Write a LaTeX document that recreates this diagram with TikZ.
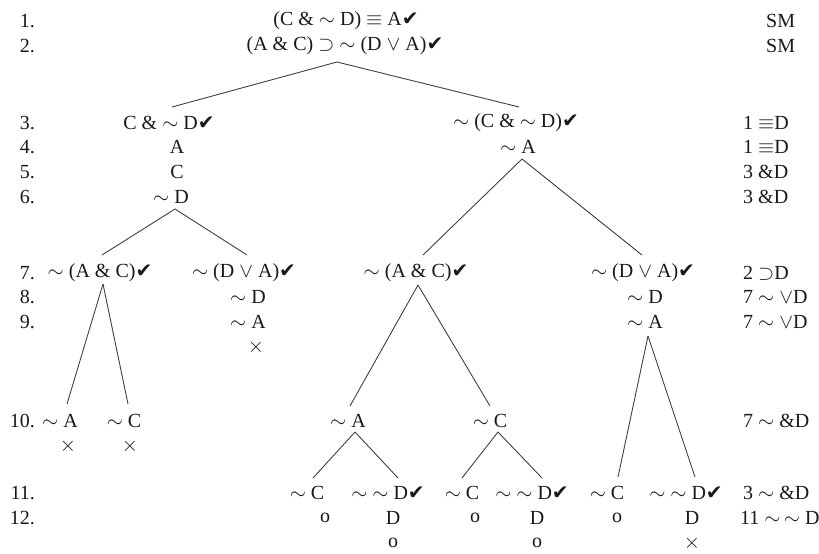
\documentclass[tikz,border=0pt]{standalone}
\usepackage{fontspec}
\setmainfont{Liberation Serif}
\newfontfamily\symfont{DejaVu Sans}
\usetikzlibrary{calc}
\newcommand{\tl}{$\sim$}
\newcommand{\ck}{{\symfont\symbol{"2714}}}
\begin{document}
\begin{tikzpicture}[x=1pt,y=-1pt,
  every node/.style={font=\fontsize{20}{24}\selectfont, inner sep=1pt, text=black!90},
  num/.style={anchor=east},
  just/.style={anchor=west},
  fm/.style={anchor=center},
  br/.style={draw=black!75, line width=0.9pt}]
\useasboundingbox (0,0) rectangle (819,554);
% line numbers
\foreach \n/\y in {1/21,2/46,3/123,4/147,5/172,6/197,7/273,8/297,9/322,10/421,11/493,12/518}
  \node[num] (num\n) at (36,\y) {\n.};
% justifications
\node[just] (j1) at (765,21) {SM};
\node[just] (j2) at (765,46) {SM};
\node[just] (j3) at (742,123) {1 $\equiv$D};
\node[just] (j4) at (742,147) {1 $\equiv$D};
\node[just] (j5) at (742,172) {3 \&D};
\node[just] (j6) at (742,197) {3 \&D};
\node[just] (j7) at (742,273) {2 $\supset$D};
\node[just] (j8) at (742,297) {7 \tl\ $\vee$D};
\node[just] (j9) at (742,322) {7 \tl\ $\vee$D};
\node[just] (j10) at (742,421) {7 \tl\ \&D};
\node[just] (j11) at (742,493) {3 \tl\ \&D};
\node[just] (j12) at (739,518) {11 \tl\,\tl\ D};
% trunk
\node[fm] (f1) at (346,21) {(C \& \tl\ D) $\equiv$ A\ck};
\node[fm] (f2) at (345,46) {(A \& C) $\supset$ \tl\ (D $\vee$ A)\ck};
% left branch
\node[fm] (f3l) at (169,123) {C \& \tl\ D\ck};
\node[fm] (f4l) at (177,147) {A};
\node[fm] (f5l) at (177,172) {C};
\node[fm] (f6l) at (171,197) {\tl\ D};
% right branch
\node[fm] (f3r) at (516,123) {\tl\ (C \& \tl\ D)\ck};
\node[fm] (f4r) at (518,147) {\tl\ A};
% row 7
\node[fm] (f7a) at (100,273) {\tl\ (A \& C)\ck};
\node[fm] (f7b) at (244,273) {\tl\ (D $\vee$ A)\ck};
\node[fm] (f7c) at (416,273) {\tl\ (A \& C)\ck};
\node[fm] (f7d) at (643,273) {\tl\ (D $\vee$ A)\ck};
% rows 8-9
\node[fm] (f8b) at (248,297) {\tl\ D};
\node[fm] (f9b) at (248,322) {\tl\ A};
\node[fm] (x9b) at (256,347) {$\times$};
\node[fm] (f8d) at (645,297) {\tl\ D};
\node[fm] (f9d) at (645,322) {\tl\ A};
% row 10
\node[fm] (f10a) at (60,421) {\tl\ A};
\node[fm] (f10b) at (124,421) {\tl\ C};
\node[fm] (x10a) at (68,446) {$\times$};
\node[fm] (x10b) at (130,446) {$\times$};
\node[fm] (f10c) at (348,421) {\tl\ A};
\node[fm] (f10d) at (490,421) {\tl\ C};
% row 11
\node[fm] (f11a) at (307,493) {\tl\ C};
\node[fm] (f11b) at (388,493) {\tl\ \tl\ D\ck};
\node[fm] (f11c) at (462,493) {\tl\ C};
\node[fm] (f11d) at (532,493) {\tl\ \tl\ D\ck};
\node[fm] (f11e) at (607,493) {\tl\ C};
\node[fm] (f11f) at (686,493) {\tl\ \tl\ D\ck};
% row 12 and 13
\node[fm] (o12a) at (325,518) {o};
\node[fm] (d12b) at (393,518) {D};
\node[fm] (o13b) at (393,543) {o};
\node[fm] (o12c) at (475,518) {o};
\node[fm] (d12d) at (537,518) {D};
\node[fm] (o13d) at (537,543) {o};
\node[fm] (o12e) at (617,518) {o};
\node[fm] (d12f) at (692,518) {D};
\node[fm] (x13f) at (692,543) {$\times$};
% branches
\draw[br] ($(f2)+(-8,16)$) -- ($(f3l)+(3,-16)$);
\draw[br] ($(f2)+(-8,16)$) -- ($(f3r)+(3,-16)$);
\draw[br] ($(f6l)+(4,12)$) -- ($(f7a)+(2,-18)$);
\draw[br] ($(f6l)+(4,12)$) -- ($(f7b)+(3,-18)$);
\draw[br] ($(f4r)+(4,12)$) -- ($(f7c)+(7,-18)$);
\draw[br] ($(f4r)+(4,12)$) -- ($(f7d)+(-1,-18)$);
\draw[br] ($(f7a)+(3,11)$) -- ($(f10a)+(7,-17)$);
\draw[br] ($(f7a)+(3,11)$) -- ($(f10b)+(4,-17)$);
\draw[br] ($(f7c)+(2,12)$) -- ($(f10c)+(2,-15)$);
\draw[br] ($(f7c)+(2,12)$) -- ($(f10d)+(0,-15)$);
\draw[br] ($(f9d)+(3,14)$) -- ($(f11e)+(11,-16)$);
\draw[br] ($(f9d)+(3,14)$) -- ($(f11f)+(9,-16)$);
\draw[br] ($(f10c)+(7,11)$) -- ($(f11a)+(6,-15)$);
\draw[br] ($(f10c)+(7,11)$) -- ($(f11b)+(10,-15)$);
\draw[br] ($(f10d)+(8,11)$) -- ($(f11c)+(0,-15)$);
\draw[br] ($(f10d)+(8,11)$) -- ($(f11d)+(10,-15)$);
\end{tikzpicture}
\end{document}
